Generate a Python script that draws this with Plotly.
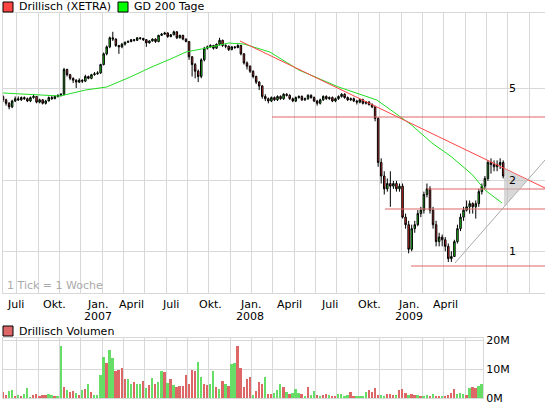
import math
import plotly.graph_objects as go

# Wochenkerzen Drillisch (XETRA), Woche 0 = Anfang Juni 2006
close = [4.45,4.30,4.15,4.40,4.50,4.45,4.55,4.50,4.40,4.55,4.60,4.35,4.45,4.30,4.40,4.55,4.50,4.60,4.65,4.70,
         6.00,5.70,5.50,5.40,5.30,5.40,5.35,5.60,
         5.50,5.70,5.75,5.80,6.30,7.00,7.50,8.20,8.10,
         7.60,7.50,7.70,7.85,7.90,8.05,8.00,8.20,8.15,8.05,7.80,7.95,8.10,7.90,8.40,8.50,8.60,8.30,8.45,
         8.70,8.20,8.40,8.10,7.90,
         6.80,6.30,5.90,5.60,
         6.60,7.40,
         7.50,7.60,7.40,7.70,8.00,7.60,7.55,7.30,7.50,7.45,7.60,
         7.00,6.40,6.20,5.90,5.60,5.30,5.10,4.60,4.50,
         4.40,4.55,4.45,4.60,4.50,4.70,4.65,4.50,4.40,4.55,4.60,4.45,4.50,4.65,4.55,4.40,4.30,4.45,4.60,4.50,
         4.55,4.40,4.50,4.60,4.70,4.55,4.45,4.50,4.40,4.35,4.45,4.30,4.35,4.25,4.15,
         3.70,2.40,2.10,1.85,1.95,1.90,1.95,1.85,1.90,
         1.40,1.30,1.02,1.25,1.30,1.45,1.50,1.75,1.85,1.50,1.30,1.10,1.15,1.12,1.05,0.93,0.95,1.10,1.25,1.40,
         1.50,1.55,1.60,1.55,1.60,1.80,1.90,2.05,2.40,2.35,2.30,2.35,2.40,2.10]
high = [4.65,4.50,4.35,4.45,4.60,4.60,4.60,4.60,4.55,4.60,4.70,4.62,4.50,4.48,4.45,4.60,4.62,4.65,4.70,4.75,
        6.10,6.05,5.75,5.55,5.45,5.50,5.45,5.70,
        5.65,5.75,5.85,5.90,6.35,7.10,7.60,8.30,8.70,
        8.15,7.65,7.80,7.90,8.00,8.10,8.10,8.25,8.25,8.20,8.10,8.00,8.15,8.15,8.45,8.60,8.70,8.65,8.50,
        8.80,8.75,8.45,8.45,8.15,
        7.95,6.85,6.40,6.00,
        6.70,7.50,
        7.60,7.70,7.65,7.75,8.20,8.05,7.70,7.60,7.55,7.55,7.70,
        7.65,7.05,6.50,6.25,5.95,5.65,5.35,5.15,4.70,
        4.55,4.60,4.60,4.65,4.65,4.75,4.75,4.70,4.55,4.60,4.65,4.65,4.55,4.70,4.70,4.60,4.45,4.50,4.65,4.65,
        4.60,4.60,4.55,4.65,4.75,4.75,4.60,4.55,4.55,4.45,4.50,4.50,4.40,4.40,4.30,
        4.20,3.75,2.50,2.20,2.05,2.20,2.00,2.00,1.95,
        1.95,1.45,1.35,1.30,1.35,1.50,1.55,1.80,1.95,1.90,1.55,1.35,1.20,1.18,1.15,1.08,1.00,1.12,1.30,1.45,
        1.55,1.65,1.65,1.62,1.65,1.85,1.95,2.10,2.45,2.50,2.45,2.45,2.50,2.45]
low = [4.35,4.20,4.05,4.10,4.35,4.40,4.40,4.45,4.35,4.35,4.50,4.30,4.30,4.25,4.25,4.38,4.45,4.48,4.55,4.60,
       4.65,5.60,5.40,5.25,5.00,5.25,5.25,5.30,
       5.45,5.45,5.65,5.70,5.75,6.25,6.90,7.40,7.95,
       7.50,7.00,7.40,7.60,7.80,7.85,7.90,7.95,8.05,7.95,7.50,7.75,7.90,7.80,7.85,8.35,8.45,8.20,8.25,
       8.40,8.10,8.15,8.00,7.85,
       6.60,5.60,5.50,5.30,
       5.50,6.50,
       7.30,7.45,7.30,7.35,7.60,7.50,7.40,7.20,7.25,7.35,7.40,
       6.90,6.30,6.00,5.80,5.50,5.20,4.90,4.50,4.40,
       4.30,4.35,4.40,4.40,4.45,4.45,4.60,4.45,4.35,4.35,4.50,4.40,4.40,4.45,4.50,4.35,4.20,4.25,4.40,4.45,
       4.45,4.35,4.35,4.45,4.55,4.50,4.40,4.40,4.35,4.25,4.30,4.25,4.25,4.20,4.10,
       3.60,2.30,1.95,1.75,1.80,1.55,1.85,1.80,1.80,
       1.38,1.25,0.98,1.00,1.20,1.28,1.40,1.45,1.70,1.45,1.25,1.05,1.05,1.05,1.00,0.90,0.90,0.95,1.08,1.22,
       1.35,1.48,1.45,1.45,1.38,1.55,1.75,1.85,2.00,2.15,2.20,2.20,2.25,2.05]
first_open = 4.60
open_ = [first_open] + close[:-1]
weeks = list(range(len(close)))

ma_week = [0, 18.7, 27, 34, 41.6, 48, 55, 60, 65, 74, 79, 87.5, 97, 110, 122.6, 134, 140.6, 147, 154, 158, 163.6]
ma_value = [4.76, 4.62, 4.90, 5.05, 5.56, 6.09, 6.66, 7.13, 7.34, 7.79, 7.71, 7.13, 5.97, 5.05, 4.44, 3.47,
            2.91, 2.54, 2.12, 1.83, 1.61]

# Volumen in Mio. Stück, g = steigend, r = fallend
volume = [1.9,1.1,2.4,2.8,0.8,1.1,0.8,1.4,3.6,0.3,1.1,1.4,0.8,1.1,1.1,1.4,1.1,0.5,0.7,18.1,
          3.9,2.8,1.9,2.5,1.7,1.1,2.8,3.0,4.8,1.9,1.1,1.1,7.8,14.1,12.2,16.4,13.8,9.4,9.8,10.4,
          6.4,6.4,4.8,5.4,5.0,4.8,5.8,3.6,4.4,6.8,4.8,5.4,9.4,9.1,5.1,6.4,4.4,3.9,4.1,4.1,
          8.1,5.0,9.8,9.4,12.4,7.4,4.8,4.4,4.8,9.4,3.9,3.1,5.8,4.8,4.1,11.8,12.1,17.8,10.4,3.9,
          6.7,7.4,1.1,2.4,5.4,4.7,7.4,1.4,1.4,1.7,2.8,5.0,3.9,2.1,1.4,1.7,3.1,1.7,1.4,0.8,
          3.8,1.1,2.4,1.1,0.8,1.1,1.4,1.1,0.8,0.8,1.4,1.4,0.5,1.1,1.9,0.8,0.5,0.8,0.5,1.9,
          2.8,2.1,3.4,1.1,1.1,0.5,1.4,1.4,1.1,1.1,2.8,3.1,1.8,1.1,1.4,1.1,1.1,0.8,0.8,1.1,
          0.8,1.4,0.5,0.5,0.5,0.5,1.1,1.8,3.1,1.4,1.8,1.4,1.1,3.4,3.8,3.4,4.1,4.8,3.1,5.1,0.8]
vol_dir = ("r r g g r g r g g g r r r r r g g r g g "
           "r g r r g r g r g r g g g g r g g r r r "
           "r g g r g g r g r g r g g r g r g r r r "
           "r r r r g g r r g g r g r g r g g r r r "
           "r r g r r r g r r g g g r g r g g g r g "
           "r g g r g r r g r r g g g g r r g g g g "
           "r r r r g g r r r g r r r g r r g r g g "
           "r g r r g r r r r g g g r g r r g g g g g r r").split()
vol_week = list(range(len(volume)))
vol_colors = ['#66dd66' if d == 'g' else '#dd6666' for d in vol_dir[:len(volume)]]

month_labels = ["Juli", "Okt.", "Jan.", "April", "Juli", "Okt.", "Jan.", "April", "Juli", "Okt.", "Jan.", "April"]
month_weeks = [4, 17, 31, 42, 55, 68, 81, 94, 107, 120, 133, 145]
year_labels = ["2007", "2008", "2009"]
year_weeks = [31, 81, 133]
price_labels = ["5", "2", "1"]
price_ticks = [5, 2, 1]

W, H = 545, 407
px = lambda v: v / W
py = lambda v: 1 - v / H
wk = lambda x: (x - 3) / 3.05
pr = lambda y: 5 * 10 ** ((88 - y) / 233.6)

fig = go.Figure()
fig.add_trace(go.Candlestick(
    x=weeks, open=open_, high=high, low=low, close=close,
    increasing=dict(fillcolor='#22ee22', line=dict(color='black', width=1)),
    decreasing=dict(fillcolor='#ff3333', line=dict(color='black', width=1)),
    whiskerwidth=0, showlegend=False, xaxis='x', yaxis='y'))
fig.add_trace(go.Scatter(x=ma_week, y=ma_value, mode='lines', line=dict(color='#22dd22', width=1),
                         showlegend=False, xaxis='x', yaxis='y'))
fig.add_trace(go.Bar(x=vol_week, y=volume, marker_color=vol_colors, marker_line_width=0, width=0.6,
                     showlegend=False, xaxis='x2', yaxis='y2'))

grid = '#d8d8d8'
vgrid = [4.5 + 7 * k for k in range(26)]
fig.update_layout(
    width=W, height=H, margin=dict(l=0, r=0, t=0, b=0, pad=0, autoexpand=False),
    paper_bgcolor='white', plot_bgcolor='white', showlegend=False,
    font=dict(family='DejaVu Sans', size=11, color='black'),
    bargap=0,
    xaxis=dict(domain=[px(3), 1], range=[wk(3), wk(545)], rangeslider=dict(visible=False),
               tickvals=vgrid, showticklabels=False, showgrid=True, gridcolor=grid, zeroline=False,
               showline=True, linecolor=grid, mirror=True, ticks=''),
    yaxis=dict(domain=[py(293), py(13)], type='log', range=[math.log10(pr(293)), math.log10(pr(13))],
               tickvals=price_ticks, showticklabels=False,
               showgrid=True, gridcolor=grid, zeroline=False, showline=True, linecolor=grid, mirror=True),
    xaxis2=dict(domain=[px(3), px(483)], range=[wk(3), wk(483)], anchor='y2', tickvals=vgrid,
                showticklabels=False, showgrid=True, gridcolor=grid, zeroline=False,
                showline=True, linecolor=grid, mirror=True),
    yaxis2=dict(domain=[py(398), py(338)], range=[0, 20.7], anchor='x2', side='right',
                tickvals=[0, 10, 20], ticktext=['0M', '10M', '20M'], showgrid=True, gridcolor=grid,
                zeroline=False, showline=True, linecolor=grid, mirror=True, ticks='',
                tickfont=dict(size=11)),
)

red = '#ff4444'
shapes = [
    dict(type='line', xref='x', yref='y', x0=wk(240), y0=pr(41), x1=wk(545), y1=pr(188), line=dict(color=red, width=1)),
    dict(type='line', xref='x', yref='y', x0=wk(272), y0=pr(117), x1=wk(545), y1=pr(117), line=dict(color='#dd6666', width=1)),
    dict(type='line', xref='x', yref='y', x0=wk(427), y0=pr(189), x1=wk(545), y1=pr(189), line=dict(color='#dd6666', width=1)),
    dict(type='line', xref='x', yref='y', x0=wk(385), y0=pr(209), x1=wk(545), y1=pr(209), line=dict(color='#dd6666', width=1)),
    dict(type='line', xref='x', yref='y', x0=wk(411), y0=pr(266), x1=wk(545), y1=pr(266), line=dict(color='#dd6666', width=1)),
    dict(type='line', xref='x', yref='y', x0=wk(455), y0=pr(263), x1=wk(545), y1=pr(160), line=dict(color='#aaaaaa', width=1)),
    dict(type='path', xref='paper', yref='paper',
         path=f"M {px(504)},{py(168)} L {px(527)},{py(180)} L {px(504)},{py(207)} Z",
         fillcolor='rgba(190,190,190,0.6)', line=dict(width=0)),
    dict(type='rect', xref='paper', yref='paper', x0=px(3), y0=py(2), x1=px(13), y1=py(12),
         fillcolor=red, line=dict(color='black', width=1)),
    dict(type='rect', xref='paper', yref='paper', x0=px(118), y0=py(2), x1=px(128), y1=py(12),
         fillcolor='#00ff00', line=dict(color='black', width=1)),
    dict(type='rect', xref='paper', yref='paper', x0=px(3), y0=py(326), x1=px(13), y1=py(336),
         fillcolor='#dd6666', line=dict(color='black', width=1)),
]
fig.update_layout(shapes=shapes)

ann = [
    dict(text="Drillisch (XETRA)", x=px(17), y=py(7)),
    dict(text="GD 200 Tage", x=px(132), y=py(7)),
    dict(text="Drillisch Volumen", x=px(17), y=py(331)),
    dict(text="1 Tick = 1 Woche", x=px(5), y=py(285), color='#aaaaaa'),
]
annotations = [dict(xref='paper', yref='paper', xanchor='left', yanchor='middle', showarrow=False,
                    text=a['text'], x=a['x'], y=a['y'], font=dict(size=11, color=a.get('color', 'black')))
               for a in ann]
for lab, t in zip(price_labels, price_ticks):
    annotations.append(dict(xref='paper', yref='y', x=px(507), y=math.log10(t), text=lab,
                            showarrow=False, xanchor='left', yanchor='middle', font=dict(size=11)))
for lab, w in zip(month_labels, month_weeks):
    annotations.append(dict(xref='x', yref='paper', x=w, y=py(304), text=lab, showarrow=False,
                            xanchor='center', yanchor='middle', font=dict(size=11)))
for lab, w in zip(year_labels, year_weeks):
    annotations.append(dict(xref='x', yref='paper', x=w, y=py(316), text=lab, showarrow=False,
                            xanchor='center', yanchor='middle', font=dict(size=11)))
fig.update_layout(annotations=annotations)

fig.write_html("out.html", config={'displayModeBar': False},
               post_script="document.body.style.margin='0px';")
